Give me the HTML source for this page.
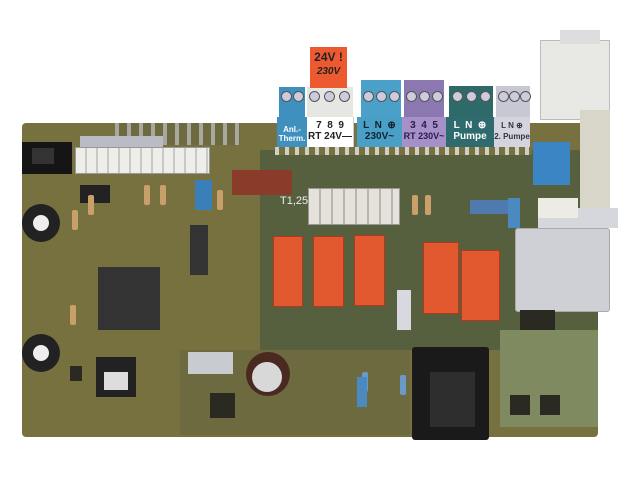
<!DOCTYPE html>
<html><head><meta charset="utf-8"><style>
*{margin:0;padding:0;box-sizing:border-box}
body{width:640px;height:480px;background:#fff;position:relative;overflow:hidden;font-family:"Liberation Sans",sans-serif}
div{position:absolute}
.t{font-size:10px;color:#fff;text-align:center;font-weight:bold;line-height:11px;white-space:nowrap}
.scr{width:11px;height:11px;border-radius:50%;background:#ccd;border:1px solid #555}
.relay{background:#e2592f;border:1px solid #b23a1a}
.res{width:6px;height:20px;background:#c9a06a;border-radius:2px}
.sm{background:#2a2a22}
</style></head><body>
<!-- board -->
<div style="left:22px;top:123px;width:576px;height:314px;background:#77703f;border-radius:4px"></div>
<div style="left:260px;top:150px;width:338px;height:200px;background:#56603f"></div>
<div style="left:500px;top:330px;width:98px;height:97px;background:#808a60"></div>
<div style="left:180px;top:350px;width:230px;height:85px;background:#6d6a3f"></div>
<!-- top right parts -->
<div style="left:540px;top:40px;width:70px;height:80px;background:#e8e8e4;border:1px solid #bbb"></div>
<div style="left:560px;top:30px;width:40px;height:14px;background:#ddd"></div>
<div style="left:580px;top:110px;width:30px;height:100px;background:#d8d6c8"></div>
<!-- top pins row -->
<div style="left:115px;top:123px;width:125px;height:22px;background:repeating-linear-gradient(90deg,#a8a8a0 0 4px,#6d6a3f 4px 12px)"></div>
<div style="left:80px;top:136px;width:83px;height:11px;background:#b9bcc4"></div>
<!-- RJ jack -->
<div style="left:22px;top:142px;width:50px;height:32px;background:#151515"></div>
<div style="left:32px;top:148px;width:22px;height:16px;background:#333"></div>
<!-- white connector -->
<div style="left:75px;top:147px;width:135px;height:27px;background:#ededea;border:1px solid #999;background-image:repeating-linear-gradient(90deg,#ededea 0 9px,#c8c8c4 9px 11px)"></div>
<!-- pots -->
<div style="left:22px;top:204px;width:38px;height:38px;border-radius:50%;background:#222"></div>
<div style="left:33px;top:215px;width:16px;height:16px;border-radius:50%;background:#eee"></div>
<div style="left:22px;top:334px;width:38px;height:38px;border-radius:50%;background:#222"></div>
<div style="left:33px;top:345px;width:16px;height:16px;border-radius:50%;background:#eee"></div>
<!-- CPU -->
<div class="sm" style="left:98px;top:267px;width:62px;height:63px;background:#333"></div>
<!-- IC50 -->
<div class="sm" style="left:96px;top:357px;width:40px;height:40px;background:#222"></div>
<div style="left:104px;top:372px;width:24px;height:18px;background:#ddd"></div>
<div class="sm" style="left:210px;top:393px;width:25px;height:25px"></div>
<div class="sm" style="left:70px;top:366px;width:12px;height:15px"></div>
<!-- misc -->
<div style="left:195px;top:180px;width:17px;height:30px;background:#3b7fb8"></div>
<div style="left:232px;top:170px;width:60px;height:25px;background:#8a3b2a"></div>
<div style="left:80px;top:185px;width:30px;height:18px;background:#222"></div>
<div style="left:188px;top:352px;width:45px;height:22px;background:#c8ccd0"></div>
<div style="left:190px;top:225px;width:18px;height:50px;background:#333"></div>
<div class="res" style="left:72px;top:210px"></div>
<div class="res" style="left:88px;top:195px"></div>
<div class="res" style="left:144px;top:185px"></div>
<div class="res" style="left:160px;top:185px"></div>
<div class="res" style="left:217px;top:190px"></div>
<div class="res" style="left:70px;top:305px"></div>
<!-- capacitor -->
<div style="left:246px;top:352px;width:44px;height:44px;border-radius:50%;background:#4a2a20"></div>
<div style="left:252px;top:362px;width:30px;height:30px;border-radius:50%;background:#d8d8d8"></div>
<!-- X2 connector -->
<div style="left:308px;top:188px;width:92px;height:37px;background:#e4e2da;border:1px solid #999;background-image:repeating-linear-gradient(90deg,#e4e2da 0 10px,#b8b6ae 10px 12px)"></div>
<!-- relays -->
<div class="relay" style="left:273px;top:236px;width:30px;height:71px"></div>
<div class="relay" style="left:313px;top:236px;width:31px;height:71px"></div>
<div class="relay" style="left:354px;top:235px;width:31px;height:71px"></div>
<div class="relay" style="left:423px;top:242px;width:36px;height:72px"></div>
<div class="relay" style="left:461px;top:250px;width:39px;height:71px"></div>
<div style="left:397px;top:290px;width:14px;height:40px;background:#d8d8e0"></div>
<div class="res" style="left:412px;top:195px"></div>
<div class="res" style="left:425px;top:195px"></div>
<div style="left:470px;top:200px;width:50px;height:14px;background:#4f7ab0"></div>
<div style="left:508px;top:198px;width:12px;height:30px;background:#4a8ac0"></div>
<!-- grey box -->
<div style="left:515px;top:228px;width:95px;height:84px;background:#cfd0d6;border:1px solid #aaa;border-radius:3px"></div>
<div style="left:538px;top:208px;width:80px;height:20px;background:#d6d7dc"></div>
<!-- blue connector -->
<div style="left:533px;top:142px;width:37px;height:43px;background:#3c85c4"></div>
<div style="left:538px;top:198px;width:40px;height:20px;background:#ecebe4"></div>
<!-- transformer -->
<div style="left:412px;top:347px;width:77px;height:93px;background:#1a1a1a;border-radius:3px"></div>
<div style="left:430px;top:372px;width:45px;height:55px;background:#2e2e2e"></div>
<div class="sm" style="left:510px;top:395px;width:20px;height:20px"></div>
<div class="sm" style="left:540px;top:395px;width:20px;height:20px"></div>
<div class="sm" style="left:520px;top:310px;width:35px;height:20px"></div>
<div class="res" style="left:362px;top:372px;background:#6a9ac8"></div>
<div class="res" style="left:400px;top:375px;background:#6a9ac8"></div>
<div style="left:357px;top:377px;width:10px;height:30px;background:#4a8ac0"></div>
<!-- screw blocks -->
<div style="left:279px;top:87px;width:26px;height:30px;background:#3f8fbf"></div>
<div style="left:307px;top:87px;width:46px;height:30px;background:#e6e6e2"></div>
<div style="left:361px;top:80px;width:40px;height:37px;background:#4aa0c8"></div>
<div style="left:404px;top:80px;width:40px;height:37px;background:#8c78b0"></div>
<div style="left:449px;top:86px;width:44px;height:31px;background:#2e6a6a"></div>
<div style="left:496px;top:86px;width:34px;height:31px;background:#c8c8d4"></div>
<div class="scr" style="left:281px;top:91px"></div><div class="scr" style="left:293px;top:91px"></div>
<div class="scr" style="left:309px;top:91px"></div><div class="scr" style="left:324px;top:91px"></div><div class="scr" style="left:339px;top:91px"></div>
<div class="scr" style="left:363px;top:91px"></div><div class="scr" style="left:376px;top:91px"></div><div class="scr" style="left:389px;top:91px"></div>
<div class="scr" style="left:406px;top:91px"></div><div class="scr" style="left:419px;top:91px"></div><div class="scr" style="left:432px;top:91px"></div>
<div class="scr" style="left:452px;top:91px"></div><div class="scr" style="left:466px;top:91px"></div><div class="scr" style="left:480px;top:91px"></div>
<div class="scr" style="left:498px;top:91px"></div><div class="scr" style="left:509px;top:91px"></div><div class="scr" style="left:520px;top:91px"></div>
<!-- 24V label -->
<div style="left:310px;top:47px;width:37px;height:41px;background:#ee5a30;color:#222;font-size:12px;font-weight:bold;text-align:center;padding-top:4px;line-height:13px">24V !<br><span style="font-size:10px;font-style:italic">230V</span></div>
<!-- terminal labels -->
<div class="t" style="left:277px;top:117px;width:30px;height:30px;background:#3f8fbf;font-size:8px;padding-top:8px;line-height:9px">Anl.-<br>Therm.</div>
<div class="t" style="left:307px;top:117px;width:47px;height:30px;background:#fff;color:#222;border-right:1px solid #ccc;padding-top:3px">7 &nbsp;8 &nbsp;9<br>RT 24V—</div>
<div class="t" style="left:357px;top:117px;width:45px;height:30px;background:#4a9fc7;color:#123;padding-top:3px">L &nbsp;N &nbsp;⊕<br>230V~</div>
<div class="t" style="left:402px;top:117px;width:44px;height:30px;background:#a690c8;color:#2a1a4a;padding-top:3px">3 &nbsp;4 &nbsp;5<br><span style="font-size:9px">RT 230V~</span></div>
<div class="t" style="left:446px;top:117px;width:48px;height:30px;background:#2f6b6e;padding-top:3px">L &nbsp;N &nbsp;⊕<br>Pumpe</div>
<div class="t" style="left:494px;top:117px;width:36px;height:30px;background:#d4d4dc;color:#334;padding-top:3px;font-size:8px">L N ⊕<br>2. Pumpe</div>
<div style="left:275px;top:147px;width:257px;height:8px;background:repeating-linear-gradient(90deg,#cfcfc8 0 4px,#77703f 4px 10px)"></div>
<div style="left:280px;top:195px;color:#eee;font-size:11px">T1,25</div>
</body></html>
